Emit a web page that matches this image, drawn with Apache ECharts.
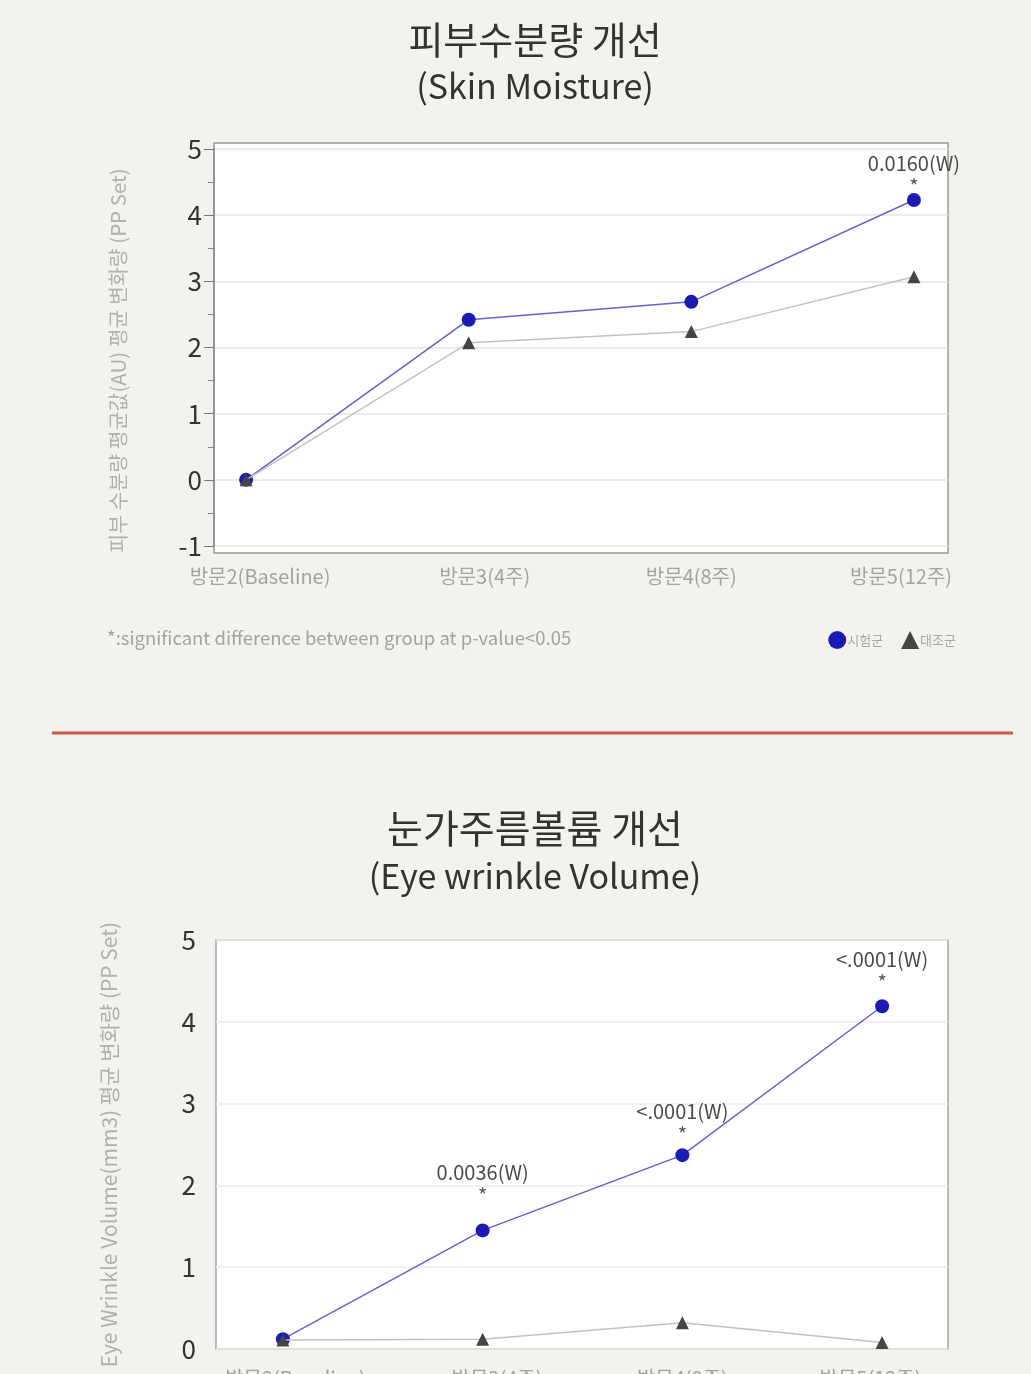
<!DOCTYPE html>
<html>
<head>
<meta charset="utf-8">
<script src="https://cdn.jsdelivr.net/npm/echarts@6/dist/echarts.min.js"></script>
<style>
html,body{margin:0;padding:0;background:#f3f2ee;}
#c{width:1031px;height:1374px;}
</style>
</head>
<body>
<div id="c"></div>
<script>
// ---- data ----
const categories = ['방문2(Baseline)', '방문3(4주)', '방문4(8주)', '방문5(12주)'];
const seriesNames = ['시험군', '대조군'];

// Chart 1: 피부수분량 개선 (Skin Moisture)
const moistTest = [0, 2.42, 2.69, 4.23];
const moistCtrl = [0, 2.07, 2.24, 3.07];
const moistNotes = ['', '', '', '0.0160(W)'];
const moistTicks = [-1, 0, 1, 2, 3, 4, 5];

// Chart 2: 눈가주름볼륨 개선 (Eye wrinkle Volume)
const eyeTest = [0.12, 1.45, 2.37, 4.19];
const eyeCtrl = [0.11, 0.12, 0.32, 0.08];
const eyeNotes = ['', '0.0036(W)', '<.0001(W)', '<.0001(W)'];
const eyeTicks = [0, 1, 2, 3, 4, 5];

// ---- styles ----
const FONT = "'Noto Sans CJK KR', 'Noto Sans', sans-serif";
const BLUE = '#1b1bb3';
const BLUE_LINE = '#6262cf';
const DARK = '#454545';
const GRAY_LINE = '#c2c2c2';
const moistNoteGap = [0, 0, 0, -2];
const eyeNoteGap = [0, 19, 5, 8];

function pts(vals, notes, gaps) {
  return vals.map((v, i) => {
    const item = { value: [i, v] };
    if (notes && notes[i]) {
      item.label = {
        show: true, position: 'top', distance: gaps[i],
        formatter: '{p|' + notes[i] + '}\n{s|*}',
        rich: {
          p: { fontSize: 20, color: '#4a4a4a', fontFamily: FONT, lineHeight: 27 },
          s: { fontSize: 20, color: '#555', fontFamily: FONT, lineHeight: 18 }
        }
      };
    }
    return item;
  });
}

// label anchor offsets (visual alignment only, same order as categories)
const labelShift = [0.063, 0.072, 0, -0.058];
const catLabel = (margin) => ({
  customValues: labelShift.map((s, i) => i + s),
  formatter: (v) => categories[Math.round(v)],
  fontSize: 20, color: '#a3a3a3', fontFamily: FONT, margin: margin
});

const chart = echarts.init(document.getElementById('c'));
chart.setOption({
  backgroundColor: '#f3f2ee',
  animation: false,
  title: [
    { text: '피부수분량 개선', left: 530, textAlign: 'center', top: 16,
      textStyle: { fontSize: 38, fontWeight: 'normal', color: '#333', fontFamily: FONT } },
    { text: '(Skin Moisture)', left: 530, textAlign: 'center', top: 64,
      textStyle: { fontSize: 34, fontWeight: 'normal', color: '#333', fontFamily: FONT } },
    { text: '*:significant difference between group at p-value<0.05', left: 102, top: 624,
      textStyle: { fontSize: 18.5, fontWeight: 'normal', color: '#a3a3a3', fontFamily: FONT } },
    { text: '눈가주름볼륨 개선', left: 530, textAlign: 'center', top: 804,
      textStyle: { fontSize: 39, fontWeight: 'normal', color: '#333', fontFamily: FONT } },
    { text: '(Eye wrinkle Volume)', left: 530, textAlign: 'center', top: 854,
      textStyle: { fontSize: 34, fontWeight: 'normal', color: '#333', fontFamily: FONT } }
  ],
  legend: {
    right: 70, top: 626, itemWidth: 18, itemHeight: 18, itemGap: 18,
    data: [{ name: seriesNames[0], icon: 'circle' }, { name: seriesNames[1], icon: 'triangle' }],
    textStyle: { fontSize: 13, color: '#a8a8a8', fontFamily: FONT, padding: [0, 0, 0, -4] }
  },
  graphic: [
    { type: 'line', shape: { x1: 52, y1: 733, x2: 1013, y2: 733 },
      style: { stroke: '#c95a4c', lineWidth: 3 } }
  ],
  grid: [
    { left: 214, top: 143, width: 734, height: 410, show: true, backgroundColor: '#fff',
      borderColor: '#9a9a9a', borderWidth: 1.5, outerBoundsMode: 'none' },
    { left: 214, top: 149, width: 734, height: 397, outerBoundsMode: 'none' },
    { left: 216, top: 940, width: 732, height: 409, show: true, backgroundColor: '#fff',
      borderColor: '#a5a5a5', borderWidth: 1.5, outerBoundsMode: 'none' }
  ],
  xAxis: [
    { gridIndex: 0, type: 'value', show: false, min: 0, max: 1 },
    { gridIndex: 1, type: 'value', min: -0.144, max: 3.153,
      axisLine: { show: false }, axisTick: { show: false }, splitLine: { show: false },
      axisLabel: catLabel(20) },
    { gridIndex: 2, type: 'value', min: -0.335, max: 3.33,
      axisLine: { show: false }, axisTick: { show: false }, splitLine: { show: false },
      axisLabel: catLabel(19) }
  ],
  yAxis: [
    { gridIndex: 0, type: 'value', show: false, min: 0, max: 1 },
    { gridIndex: 1, type: 'value', min: moistTicks[0], max: moistTicks[moistTicks.length - 1], interval: 1,
      name: '피부 수분량 평균값(AU) 평균 변화량 (PP Set)', nameLocation: 'middle', nameGap: 86,
      nameTextStyle: { fontSize: 20.5, color: '#b0b0b0', fontFamily: FONT, padding: [0, 26, 0, 0] },
      axisLine: { show: true, onZero: false, lineStyle: { color: '#8a8a8a', width: 1.5 } },
      axisTick: { show: true, length: 10, lineStyle: { color: '#777' } },
      minorTick: { show: true, splitNumber: 2, length: 6, lineStyle: { color: '#888' } },
      splitLine: { show: true, lineStyle: { color: '#e4e4e4', width: 1.5 } },
      axisLabel: { fontSize: 26, color: '#333', fontFamily: FONT, margin: 12 } },
    { gridIndex: 2, type: 'value', min: eyeTicks[0], max: eyeTicks[eyeTicks.length - 1], interval: 1,
      name: 'Eye Wrinkle Volume(mm3) 평균 변화량 (PP Set)', nameLocation: 'middle', nameGap: 96,
      nameTextStyle: { fontSize: 21, color: '#b0b0b0', fontFamily: FONT },
      axisLine: { show: false, onZero: false }, axisTick: { show: false },
      splitLine: { show: true, lineStyle: { color: '#ececec', width: 1.5 } },
      axisLabel: { fontSize: 26, color: '#333', fontFamily: FONT, margin: 20 } }
  ],
  series: [
    { name: seriesNames[0], type: 'line', xAxisIndex: 1, yAxisIndex: 1, z: 3,
      data: pts(moistTest, moistNotes, moistNoteGap), symbol: 'circle', symbolSize: 14,
      itemStyle: { color: BLUE }, lineStyle: { color: BLUE_LINE, width: 1.5 } },
    { name: seriesNames[1], type: 'line', xAxisIndex: 1, yAxisIndex: 1, z: 4,
      data: pts(moistCtrl, null, null), symbol: 'triangle', symbolSize: 13,
      itemStyle: { color: DARK }, lineStyle: { color: GRAY_LINE, width: 1.5 } },
    { name: seriesNames[0], type: 'line', xAxisIndex: 2, yAxisIndex: 2, z: 3,
      data: pts(eyeTest, eyeNotes, eyeNoteGap), symbol: 'circle', symbolSize: 14,
      itemStyle: { color: BLUE }, lineStyle: { color: BLUE_LINE, width: 1.5 } },
    { name: seriesNames[1], type: 'line', xAxisIndex: 2, yAxisIndex: 2, z: 4,
      data: pts(eyeCtrl, null, null), symbol: 'triangle', symbolSize: 13,
      itemStyle: { color: DARK }, lineStyle: { color: GRAY_LINE, width: 1.5 } }
  ]
});
</script>
</body>
</html>
